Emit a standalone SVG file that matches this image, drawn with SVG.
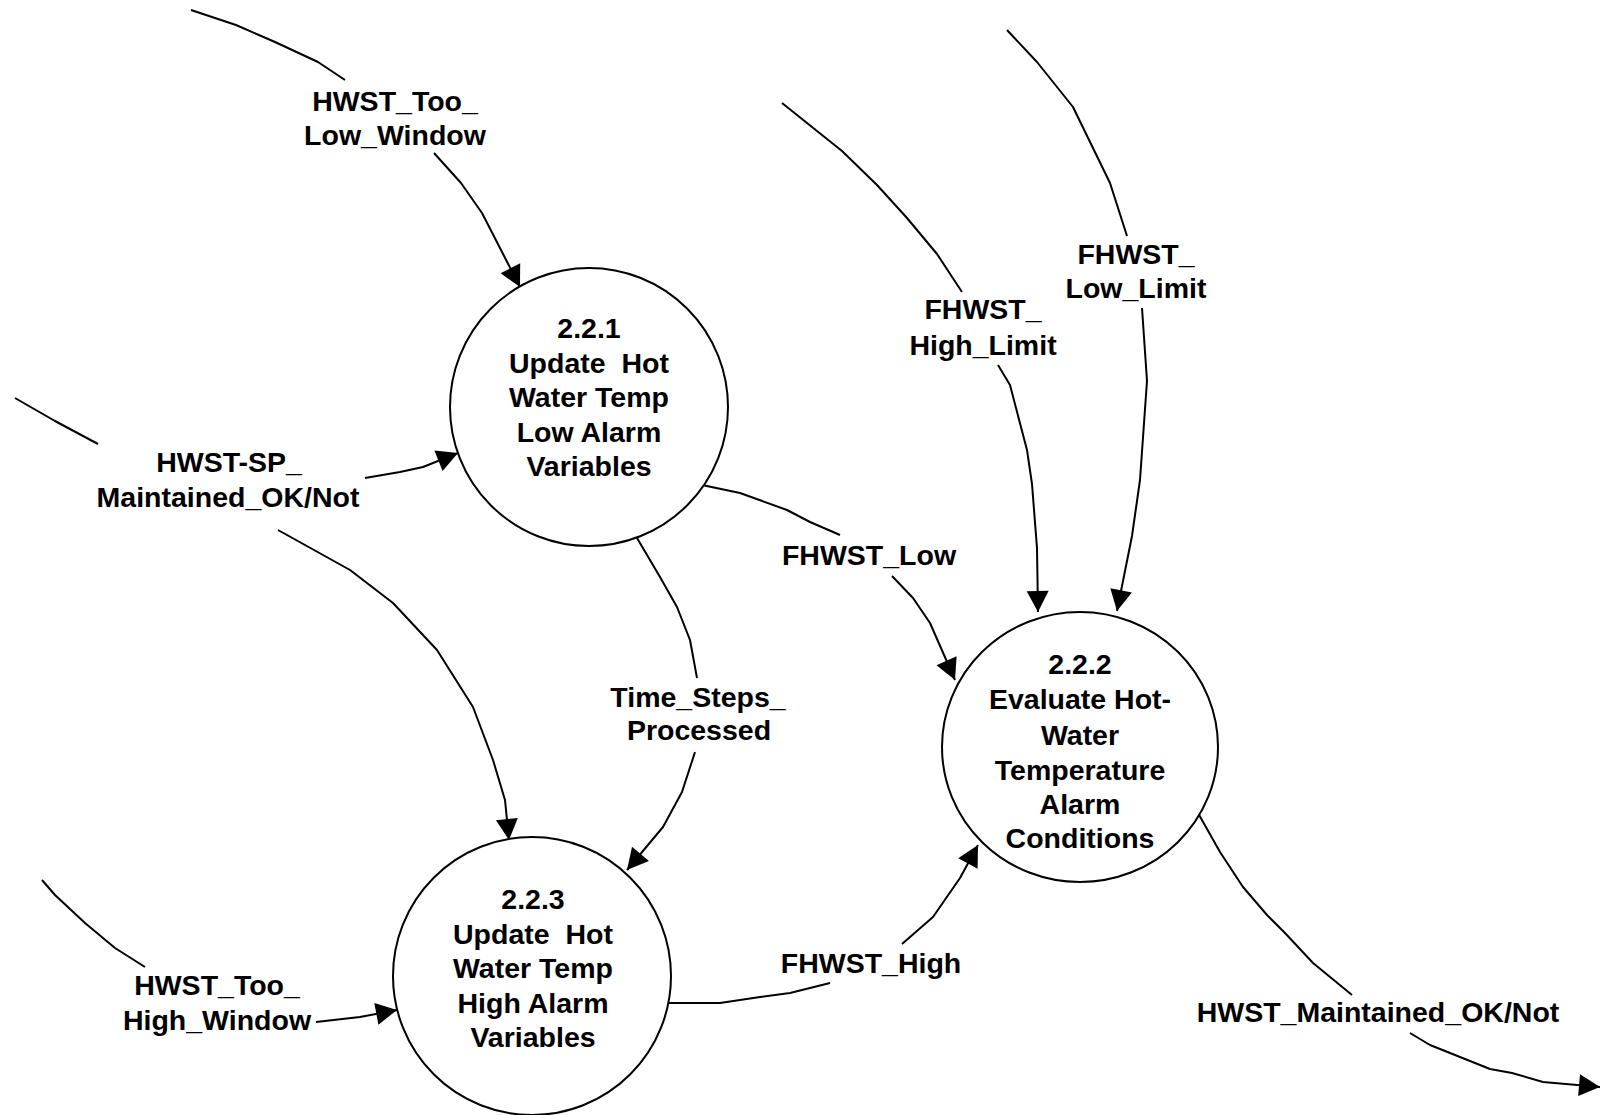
<svg xmlns="http://www.w3.org/2000/svg" width="1602" height="1115" viewBox="0 0 1602 1115">
<style>
.bub{fill:#fff;stroke:#000;stroke-width:2}
.t{font-family:"Liberation Sans",Arial,sans-serif;font-weight:bold;font-size:28.5px;fill:#000;text-anchor:middle}
.c{fill:none;stroke:#000;stroke-width:2;stroke-linejoin:round}
</style>
<defs>
<marker id="ah" markerUnits="userSpaceOnUse" markerWidth="22" markerHeight="22" refX="21" refY="11" orient="auto" overflow="visible">
<path d="M0,0 L21,11 L0,22 z" fill="#000"/>
</marker>
</defs>
<rect width="1602" height="1115" fill="#fff"/>
<g id="connectors">
<polyline class="c" points="191,10 236,25 275,42 318,62 345,80"/>
<polyline class="c" points="434,153 461,183 482,213 520,287" marker-end="url(#ah)"/>
<polyline class="c" points="15,398 55,421 98,444"/>
<polyline class="c" points="365,478 400,472 423,467 458,453" marker-end="url(#ah)"/>
<polyline class="c" points="278,530 350,570 393,603 437,650 473,707 493,760 505,800 509,840" marker-end="url(#ah)"/>
<polyline class="c" points="42,880 55,895 85,923 115,948 145,967"/>
<polyline class="c" points="316,1022 360,1017 397,1010" marker-end="url(#ah)"/>
<polyline class="c" points="782,103 842,151 877,185 907,218 937,254 962,292"/>
<polyline class="c" points="998,365 1010,385 1027,450 1032,484 1037,548 1038,612" marker-end="url(#ah)"/>
<polyline class="c" points="1007,30 1037,62 1073,107 1110,183 1127,236"/>
<polyline class="c" points="1142,308 1147,381 1145,409 1140,480 1132,536 1117,611" marker-end="url(#ah)"/>
<polyline class="c" points="702,485 740,493 787,510 810,522 840,535"/>
<polyline class="c" points="892,576 913,598 930,623 955,680" marker-end="url(#ah)"/>
<polyline class="c" points="637,538 660,577 677,607 690,640 697,678"/>
<polyline class="c" points="695,752 682,792 663,827 627,870" marker-end="url(#ah)"/>
<polyline class="c" points="669,1003 720,1003 760,997 790,993 830,983"/>
<polyline class="c" points="902,944 933,917 960,878 978,845" marker-end="url(#ah)"/>
<polyline class="c" points="1198,813 1220,852 1243,887 1267,915 1285,933 1313,963 1352,995"/>
<polyline class="c" points="1410,1033 1430,1045 1490,1069 1512,1073 1543,1082 1600,1087" marker-end="url(#ah)"/>
<text class="t" x="395" y="111">HWST_Too_</text>
<text class="t" x="395" y="145">Low_Window</text>
<text class="t" x="229" y="472">HWST-SP_</text>
<text class="t" x="228" y="507">Maintained_OK/Not</text>
<text class="t" x="217" y="995">HWST_Too_</text>
<text class="t" x="217" y="1030">High_Window</text>
<text class="t" x="983" y="319">FHWST_</text>
<text class="t" x="983" y="355">High_Limit</text>
<text class="t" x="1136" y="264">FHWST_</text>
<text class="t" x="1136" y="298">Low_Limit</text>
<text class="t" x="869" y="565">FHWST_Low</text>
<text class="t" x="698" y="707">Time_Steps_</text>
<text class="t" x="699" y="740">Processed</text>
<text class="t" x="871" y="973">FHWST_High</text>
<text class="t" x="1378" y="1022">HWST_Maintained_OK/Not</text>
</g>
<g id="p221">
<circle class="bub" cx="589" cy="407" r="139"/>
<text class="t" x="589" y="338">2.2.1</text>
<text class="t" x="589" y="372.5" xml:space="preserve">Update  Hot</text>
<text class="t" x="589" y="407">Water Temp</text>
<text class="t" x="589" y="441.5">Low Alarm</text>
<text class="t" x="589" y="476">Variables</text>
</g>
<g id="p223">
<circle class="bub" cx="532" cy="976" r="139"/>
<text class="t" x="533" y="909">2.2.3</text>
<text class="t" x="533" y="943.5" xml:space="preserve">Update  Hot</text>
<text class="t" x="533" y="978">Water Temp</text>
<text class="t" x="533" y="1012.5">High Alarm</text>
<text class="t" x="533" y="1047">Variables</text>
</g>
<g id="p222">
<ellipse class="bub" cx="1080" cy="747" rx="138" ry="135"/>
<text class="t" x="1080" y="674">2.2.2</text>
<text class="t" x="1080" y="709">Evaluate Hot-</text>
<text class="t" x="1080" y="744.5">Water</text>
<text class="t" x="1080" y="779.5">Temperature</text>
<text class="t" x="1080" y="814">Alarm</text>
<text class="t" x="1080" y="848">Conditions</text>
</g>
</svg>
